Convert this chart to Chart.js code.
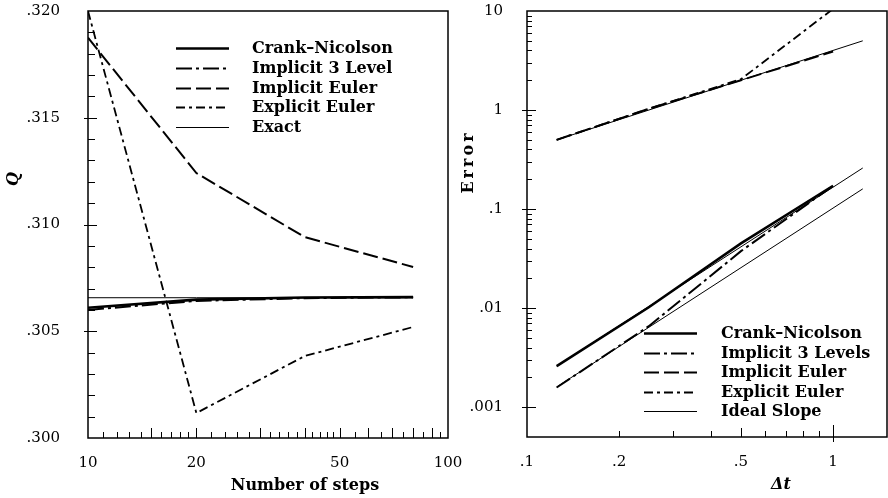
<!DOCTYPE html>
<html>
<head>
<meta charset="utf-8">
<script src="https://cdn.jsdelivr.net/npm/chart.js@4.4.1/dist/chart.umd.min.js"></script>
<style>
  html, body { margin: 0; padding: 0; background: #fff; }
  #wrap { position: relative; width: 888px; height: 498px; overflow: hidden; }
  #leftBox { position: absolute; left: 0; top: 0; }
  #rightBox { position: absolute; left: 444px; top: 0; }
</style>
</head>
<body>
<div id="wrap">
  <div id="rightBox"><canvas id="graficoError" width="444" height="498"></canvas></div>
  <div id="leftBox"><canvas id="graficoQ" width="466" height="498"></canvas></div>
</div>
<script>
// ---- left panel: Q vs number of steps
const stepCounts = [10, 20, 40, 80];
const qCrankNicolson = [0.30610, 0.30648, 0.30658, 0.30660];
const qImplicit3 = [0.30600, 0.30642, 0.30655, 0.30659];
const qImplicitEuler = [0.31875, 0.31241, 0.30941, 0.30801];
const qExplicitEuler = [0.32000, 0.30117, 0.30384, 0.30520];
const qExact = [0.30657, 0.30657, 0.30657, 0.30657];
const stepTicks = [10, 20, 50, 100];
const qTicks = [0.300, 0.305, 0.310, 0.315, 0.320];

// ---- right panel: error vs time step
const timeSteps = [0.125, 0.25, 0.5, 1];
const errCrankNicolson = [0.0026, 0.0102, 0.045, 0.172];
const errImplicit3 = [0.00158, 0.00657, 0.0376, 0.172];
const errImplicitEuler = [0.5, 1.03, 2.0, 3.9];
const errExplicitEuler = [0.5, 1.03, 2.05, 10.5];
const idealSteps = [0.125, 1.25];
const idealFirstOrder = [0.5, 5.0];
const idealSecondA = [0.0026, 0.26];
const idealSecondB = [0.0016, 0.16];
const dtTicks = [0.1, 0.2, 0.5, 1];
const errTicks = [0.001, 0.01, 0.1, 1, 10];

const TICK_FONT = { family: 'DejaVu Serif', size: 15 };

function puntos(xs, ys) {
  return xs.map((x, i) => ({ x: x, y: ys[i] }));
}

function serie(label, xs, ys, width, dash, extra) {
  return Object.assign({
    label: label,
    data: puntos(xs, ys),
    borderColor: '#000',
    backgroundColor: '#000',
    borderWidth: width,
    borderDash: dash,
    pointRadius: 0,
    tension: 0,
    fill: false
  }, extra || {});
}

// tick marks (inside the frame) - positions come from the scales
function marcasLeft() {
  const xm = [];
  for (let v = 11; v < 20; v++) xm.push([v, v === 15 ? 10 : 6]);
  for (let v = 20; v < 50; v += 2) xm.push([v, v % 10 === 0 ? 10 : 6]);
  for (let v = 50; v < 100; v += 5) xm.push([v, v % 10 === 0 ? 10 : 6]);
  const ym = [];
  for (let k = 1; k < 20; k++) {
    const v = 0.300 + k * 0.001;
    ym.push([v, k % 5 === 0 ? 9 : 7, k % 5 === 0 ? 4 : 0]);
  }
  return { xm, ym };
}
function marcasRight() {
  const xm = [];
  for (let m = 2; m <= 9; m++) xm.push([m / 10, m === 5 ? 9 : 6, 0]);
  xm.push([1, 12, 5]);
  const ym = [];
  [0.001, 0.01, 0.1, 1].forEach(d => {
    ym.push([d, 9, 5]);
    for (let m = 2; m <= 9; m++) ym.push([d * m, 5, 0]);
  });
  return { xm, ym };
}

const marcoPapel = {
  id: 'marcoPapel',
  afterDatasetsDraw(chart, args, o) {
    const { ctx, chartArea: a, scales } = chart;
    ctx.save();
    ctx.strokeStyle = '#000';
    ctx.fillStyle = '#000';
    ctx.setLineDash([]);
    ctx.lineWidth = 1.5;
    ctx.strokeRect(a.left, a.top, a.right - a.left, a.bottom - a.top);

    ctx.lineWidth = 1;
    ctx.beginPath();
    o.marcas.xm.forEach(([v, len, out]) => {
      const x = Math.round(scales.x.getPixelForValue(v)) + 0.5;
      ctx.moveTo(x, a.bottom + (out || 0));
      ctx.lineTo(x, a.bottom - len);
    });
    o.marcas.ym.forEach(([v, len, out]) => {
      const y = Math.round(scales.y.getPixelForValue(v)) + 0.5;
      ctx.moveTo(a.left - (out || 0), y);
      ctx.lineTo(a.left + len, y);
    });
    ctx.stroke();

    // legend inside the plot
    const L = o.leyenda;
    ctx.font = L.font;
    ctx.textBaseline = 'middle';
    ctx.textAlign = 'left';
    let fila = 0;
    chart.data.datasets.forEach(ds => {
      if (ds.hideInLegend) return;
      const y = Math.round(L.y + fila * L.gap) + 0.5;
      ctx.lineWidth = ds.borderWidth;
      ctx.setLineDash(ds.borderDash || []);
      ctx.beginPath();
      ctx.moveTo(L.x, y);
      ctx.lineTo(L.x + L.len, y);
      ctx.stroke();
      ctx.setLineDash([]);
      ctx.fillText(ds.label, L.textX, y);
      fila++;
    });

    // axis titles
    o.titulos.forEach(t => {
      ctx.save();
      ctx.font = t.font;
      ctx.textAlign = 'center';
      ctx.textBaseline = 'middle';
      if (t.spacing && 'letterSpacing' in ctx) ctx.letterSpacing = t.spacing;
      ctx.translate(t.x, t.y);
      if (t.rot) ctx.rotate(t.rot);
      ctx.fillText(t.text, 0, 0);
      ctx.restore();
    });
    ctx.restore();
  }
};

// keep the plot box where the figure has it: no automatic margins for labels
function sinMargenes(s) {
  s.paddingTop = 0;
  s.paddingBottom = 0;
  s.paddingLeft = 0;
  s.paddingRight = 0;
}

function ejeX(min, max, ticks, fmt, alto) {
  return {
    type: 'logarithmic', min: min, max: max,
    afterBuildTicks: s => { s.ticks = ticks.map(v => ({ value: v })); },
    afterFit: s => { s.height = alto; sinMargenes(s); },
    grid: { display: false, drawTicks: false },
    border: { display: false },
    ticks: { padding: 16, color: '#000', font: TICK_FONT, maxRotation: 0, autoSkip: false, callback: fmt }
  };
}

const LEYENDA_FONT = 'bold 16px "DejaVu Serif"';

new Chart(document.getElementById('graficoQ').getContext('2d'), {
  type: 'line',
  data: {
    datasets: [
      serie('Crank\u2013Nicolson', stepCounts, qCrankNicolson, 2.6, []),
      serie('Implicit 3 Level', stepCounts, qImplicit3, 2, [16, 4, 3, 4]),
      serie('Implicit Euler', stepCounts, qImplicitEuler, 2, [15, 5]),
      serie('Explicit Euler', stepCounts, qExplicitEuler, 1.8, [9, 4, 3, 4]),
      serie('Exact', stepCounts, qExact, 1, [])
    ]
  },
  options: {
    responsive: false,
    animation: false,
    layout: { padding: { top: 11, right: 18, left: 0, bottom: 0 } },
    plugins: {
      legend: { display: false },
      tooltip: { enabled: false },
      marcoPapel: {
        marcas: marcasLeft(),
        leyenda: { x: 176, len: 53, textX: 252, y: 48, gap: 19.75, font: LEYENDA_FONT },
        titulos: [
          { text: 'Number of steps', x: 305, y: 486, font: 'bold 16px "DejaVu Serif"' },
          { text: 'Q', x: 14, y: 179, rot: -Math.PI / 2, font: 'bold italic 16px "DejaVu Serif"' }
        ]
      }
    },
    scales: {
      x: ejeX(10, 100, stepTicks, v => String(v), 60),
      y: {
        type: 'linear', min: 0.300, max: 0.320,
        afterBuildTicks: s => { s.ticks = qTicks.map(v => ({ value: v })); },
        afterFit: s => { s.width = 88; sinMargenes(s); },
        grid: { display: false, drawTicks: false },
        border: { display: false },
        ticks: { padding: 28, color: '#000', font: TICK_FONT, callback: v => v.toFixed(3).slice(1) }
      }
    }
  },
  plugins: [marcoPapel]
});

new Chart(document.getElementById('graficoError').getContext('2d'), {
  type: 'line',
  data: {
    datasets: [
      serie('Crank\u2013Nicolson', timeSteps, errCrankNicolson, 2.6, []),
      serie('Implicit 3 Levels', timeSteps, errImplicit3, 2, [16, 4, 3, 4]),
      serie('Implicit Euler', timeSteps, errImplicitEuler, 2, [15, 5]),
      serie('Explicit Euler', timeSteps, errExplicitEuler, 1.8, [9, 4, 3, 4]),
      serie('Ideal Slope', idealSteps, idealSecondB, 1, []),
      serie('Ideal Slope', idealSteps, idealSecondA, 1, [], { hideInLegend: true }),
      serie('Ideal Slope', idealSteps, idealFirstOrder, 1, [], { hideInLegend: true })
    ]
  },
  options: {
    responsive: false,
    animation: false,
    layout: { padding: { top: 11, right: 1, left: 0, bottom: 0 } },
    plugins: {
      legend: { display: false },
      tooltip: { enabled: false },
      marcoPapel: {
        marcas: marcasRight(),
        leyenda: { x: 200, len: 53, textX: 277, y: 333, gap: 19.5, font: LEYENDA_FONT },
        titulos: [
          { text: '\u0394t', x: 337, y: 485, font: 'bold italic 16px "DejaVu Serif"' },
          { text: 'Error', x: 25, y: 162, rot: -Math.PI / 2, font: 'bold 16px "DejaVu Serif"', spacing: '3px' }
        ]
      }
    },
    scales: {
      x: ejeX(0.1, 1.5, dtTicks, v => String(v).replace(/^0/, ''), 61),
      y: {
        type: 'logarithmic', min: 0.0005, max: 10,
        afterBuildTicks: s => { s.ticks = errTicks.map(v => ({ value: v })); },
        afterFit: s => { s.width = 83; sinMargenes(s); },
        grid: { display: false, drawTicks: false },
        border: { display: false },
        ticks: { padding: 24, color: '#000', font: TICK_FONT, callback: v => String(v).replace(/^0/, '') }
      }
    }
  },
  plugins: [marcoPapel]
});
</script>
</body>
</html>
